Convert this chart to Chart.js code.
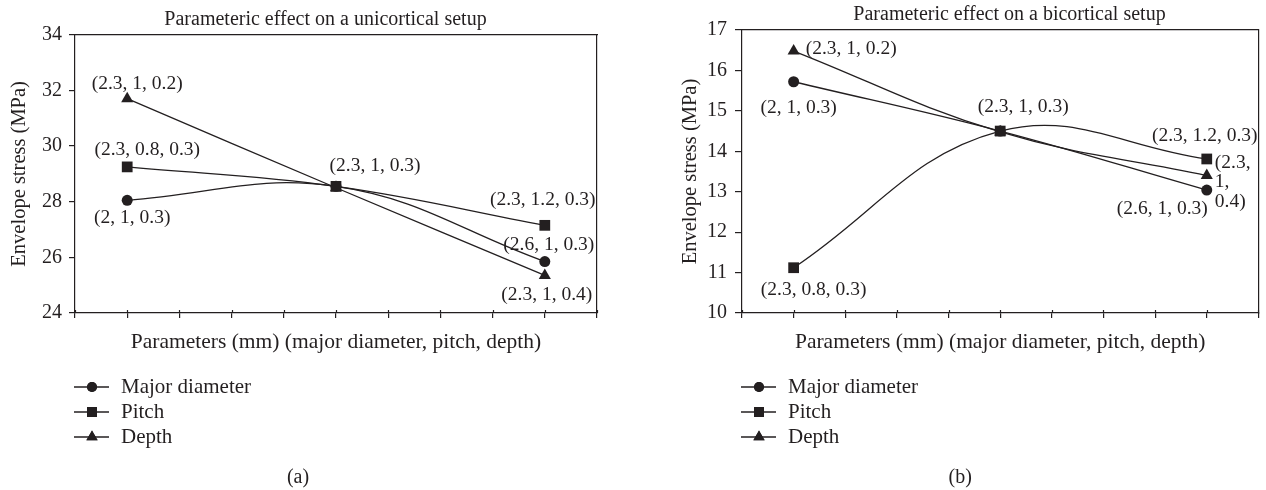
<!DOCTYPE html>
<html><head><meta charset="utf-8">
<script src="https://cdn.jsdelivr.net/npm/chart.js@4.4.0/dist/chart.umd.min.js"></script>
<style>
html,body{margin:0;padding:0;background:#fff;}
#wrap{position:relative;width:1266px;height:490px;overflow:hidden;}
.box{position:absolute;top:0;width:633px;height:490px;}
canvas{display:block;}
</style></head><body>
<div id="wrap">
<div class="box" style="left:0"><canvas id="c1" width="633" height="490"></canvas></div>
<div class="box" style="left:633px"><canvas id="c2" width="633" height="490"></canvas></div>
</div>
<script>
// ---------- data ----------
const seriesNames = ['Major diameter', 'Pitch', 'Depth'];
const xLevels = [1, 5, 9];           // parameter level index on the 0..10 axis
const xAxisRange = [0, 10];

const uniTitle = 'Parameteric effect on a unicortical setup';
const uniMajor = [28.05, 28.55, 25.85];
const uniPitch = [29.25, 28.55, 27.15];
const uniDepth = [31.7, 28.5, 25.35];
const uniMajorLabels = ['(2, 1, 0.3)', '', '(2.6, 1, 0.3)'];
const uniPitchLabels = ['(2.3, 0.8, 0.3)', '(2.3, 1, 0.3)', '(2.3, 1.2, 0.3)'];
const uniDepthLabels = ['(2.3, 1, 0.2)', '', '(2.3, 1, 0.4)'];
const uniYTicks = [24, 26, 28, 30, 32, 34];

const biTitle = 'Parameteric effect on a bicortical setup';
const biMajor = [15.72, 14.5, 13.04];
const biPitch = [11.12, 14.5, 13.81];
const biDepth = [16.48, 14.48, 13.4];
const biMajorLabels = ['(2, 1, 0.3)', '', '(2.6, 1, 0.3)'];
const biPitchLabels = ['(2.3, 0.8, 0.3)', '(2.3, 1, 0.3)', '(2.3, 1.2, 0.3)'];
const biDepthLabels = ['(2.3, 1, 0.2)', '', '(2.3, 1, 0.4)'];
const biYTicks = [10, 11, 12, 13, 14, 15, 16, 17];

const xTitle = 'Parameters (mm) (major diameter, pitch, depth)';
const yTitle = 'Envelope stress (MPa)';
const captions = ['(a)', '(b)'];

// ---------- styles ----------
const INK = '#231f20';
const FONT = 'Liberation Serif';
const pointStyles = ['circle', 'rect', 'triangle'];
const pointRadii = [5.5, 7.6, 7];
const legendRadii = [5, 7, 6.5];
const drawOrder = [1, 0, 2];

const uniLabelStyle = [
  [{dx: 5, dy: 18}, null, {dx: 4, dy: -17}],
  [{dx: 20, dy: -17}, {dx: 39, dy: -20}, {dx: -2, dy: -25}],
  [{dx: 10, dy: -15}, null, {dx: 2, dy: 19}]
];
const biLabelStyle = [
  [{dx: 5, dy: 26}, null, {dx: 1, dy: 19, align: 'right'}],
  [{dx: 20, dy: 22}, {dx: 23, dy: -24}, {dx: -2, dy: -23}],
  [{dx: 12, dy: -2, align: 'left'}, null, {dx: 8, dy: -13, align: 'left', wrap: true, gap: 19.5}]
];

Chart.defaults.font.family = FONT;
Chart.defaults.color = INK;

const pointLabelPlugin = {
  id: 'pointLabels',
  afterDatasetsDraw(chart, args, opts) {
    const ctx = chart.ctx;
    ctx.save();
    ctx.fillStyle = INK;
    ctx.font = `${opts.size}px "${FONT}"`;
    ctx.textBaseline = 'middle';
    chart.data.datasets.forEach((ds, i) => {
      const meta = chart.getDatasetMeta(i);
      ds.pointLabels.forEach((txt, j) => {
        const st = opts.styles[i][j];
        if (!txt || !st) return;
        const el = meta.data[j];
        ctx.textAlign = st.align || 'center';
        const x = el.x + st.dx;
        const y = el.y + st.dy;
        const lines = st.wrap ? txt.split(' ') : [txt];
        lines.forEach((ln, k) => ctx.fillText(ln, x, y + k * (st.gap || 0)));
      });
    });
    ctx.restore();
  }
};

const decorPlugin = {
  id: 'decor',
  afterDraw(chart, args, opts) {
    const ctx = chart.ctx;
    const ca = chart.chartArea;
    const xs = chart.scales.x;
    ctx.save();
    // inner half of the x tick marks
    ctx.strokeStyle = INK;
    ctx.lineWidth = 1.2;
    xs.ticks.forEach(t => {
      const px = Math.round(xs.getPixelForValue(t.value)) + 0.5;
      ctx.beginPath();
      ctx.moveTo(px, ca.bottom - 3);
      ctx.lineTo(px, ca.bottom);
      ctx.stroke();
    });
    // legend (vertical list)
    ctx.font = `${opts.legendSize}px "${FONT}"`;
    ctx.textBaseline = 'middle';
    ctx.textAlign = 'left';
    chart.data.datasets.forEach((ds, i) => {
      const y = ca.bottom + opts.legendTop + i * opts.legendGap;
      const x0 = ca.left - 1;
      ctx.strokeStyle = INK;
      ctx.lineWidth = 1.3;
      ctx.beginPath();
      ctx.moveTo(x0, y);
      ctx.lineTo(x0 + 35, y);
      ctx.stroke();
      ctx.fillStyle = INK;
      Chart.helpers.drawPoint(ctx, {pointStyle: ds.pointStyle, radius: legendRadii[i], rotation: 0, borderWidth: 0}, x0 + 18, y);
      ctx.fill();
      ctx.fillStyle = INK;
      ctx.fillText(ds.label, ca.left + 46, y);
    });
    // caption
    ctx.font = `${opts.captionSize}px "${FONT}"`;
    ctx.textAlign = 'center';
    ctx.fillText(opts.caption, (ca.left + ca.right) / 2 + opts.captionDx, ca.bottom + opts.captionTop);
    ctx.restore();
  }
};

function makeDatasets(values, labels) {
  return values.map((vals, i) => ({
    label: seriesNames[i],
    data: vals.map((v, j) => ({x: xLevels[j], y: v})),
    pointLabels: labels[i],
    borderColor: INK,
    backgroundColor: INK,
    borderWidth: 1.3,
    pointStyle: pointStyles[i],
    pointRadius: pointRadii[i],
    pointBorderWidth: 0,
    pointBackgroundColor: INK,
    tension: 0.4,
    order: drawOrder[i],
    clip: false
  }));
}

function makeChart(canvasId, cfg) {
  const ticks = cfg.yTicks;
  return new Chart(document.getElementById(canvasId), {
    type: 'line',
    data: {datasets: makeDatasets(cfg.values, cfg.labels)},
    options: {
      responsive: false,
      animation: false,
      devicePixelRatio: 1,
      layout: {padding: {left: 0, right: cfg.padRight, top: 0, bottom: 0}},
      plugins: {
        legend: {display: false},
        tooltip: {enabled: false},
        title: {
          display: true, text: cfg.title, color: INK,
          font: {family: FONT, size: 20, weight: 'normal'},
          padding: {top: cfg.titleTop, bottom: cfg.titleBottom}
        },
        pointLabels: {size: 19.5, styles: cfg.labelStyle},
        decor: {legendTop: 74, legendGap: 25, legendSize: 21, caption: cfg.caption,
                captionSize: 20, captionTop: 165, captionDx: cfg.captionDx}
      },
      scales: {
        x: {
          type: 'linear', position: 'bottom', min: xAxisRange[0], max: xAxisRange[1],
          ticks: {display: false, stepSize: 1},
          grid: {drawOnChartArea: false, drawTicks: true, tickLength: 5, color: INK, lineWidth: 1.2},
          border: {display: true, color: INK, width: 1.2},
          title: {display: true, text: xTitle, color: INK, font: {family: FONT, size: 21.5},
                  padding: {top: 0, bottom: 135}},
          afterFit: s => { s.height = 177; }
        },
        x2: {
          type: 'linear', position: 'top', min: xAxisRange[0], max: xAxisRange[1],
          ticks: {display: false}, grid: {display: false},
          border: {display: true, color: INK, width: 1.2},
          afterFit: s => { s.height = 0; }
        },
        y: {
          type: 'linear', position: 'left',
          min: ticks[0], max: ticks[ticks.length - 1],
          ticks: {stepSize: ticks[1] - ticks[0], color: INK, font: {family: FONT, size: 20}, padding: cfg.tickPad},
          grid: {drawOnChartArea: false, drawTicks: true, tickLength: cfg.tickLen, color: INK, lineWidth: 1.2},
          border: {display: true, color: INK, width: 1.2},
          title: {display: true, text: yTitle, color: INK, font: {family: FONT, size: 20.5},
                  padding: {top: cfg.yTitlePad, bottom: 0}},
          afterFit: s => { s.width = cfg.yWidth; }
        },
        y2: {
          type: 'linear', position: 'right',
          min: ticks[0], max: ticks[ticks.length - 1],
          ticks: {display: false}, grid: {display: false},
          border: {display: true, color: INK, width: 1.2},
          afterFit: s => { s.width = cfg.y2Width; }
        }
      }
    },
    plugins: [pointLabelPlugin, decorPlugin]
  });
}

makeChart('c1', {
  title: uniTitle,
  values: [uniMajor, uniPitch, uniDepth],
  labels: [uniMajorLabels, uniPitchLabels, uniDepthLabels],
  labelStyle: uniLabelStyle,
  yTicks: uniYTicks,
  padRight: -18, yWidth: 75, y2Width: 54,
  titleTop: 7.6, titleBottom: 3.1,
  tickPad: 7, tickLen: 6, yTitlePad: 7,
  caption: captions[0], captionDx: -38
});

makeChart('c2', {
  title: biTitle,
  values: [biMajor, biPitch, biDepth],
  labels: [biMajorLabels, biPitchLabels, biDepthLabels],
  labelStyle: biLabelStyle,
  yTicks: biYTicks,
  padRight: -120, yWidth: 109, y2Width: 122,
  titleTop: 2.5, titleBottom: 3.5,
  tickPad: 8, tickLen: 7, yTitlePad: 45,
  caption: captions[1], captionDx: -40
});
</script>
</body></html>
